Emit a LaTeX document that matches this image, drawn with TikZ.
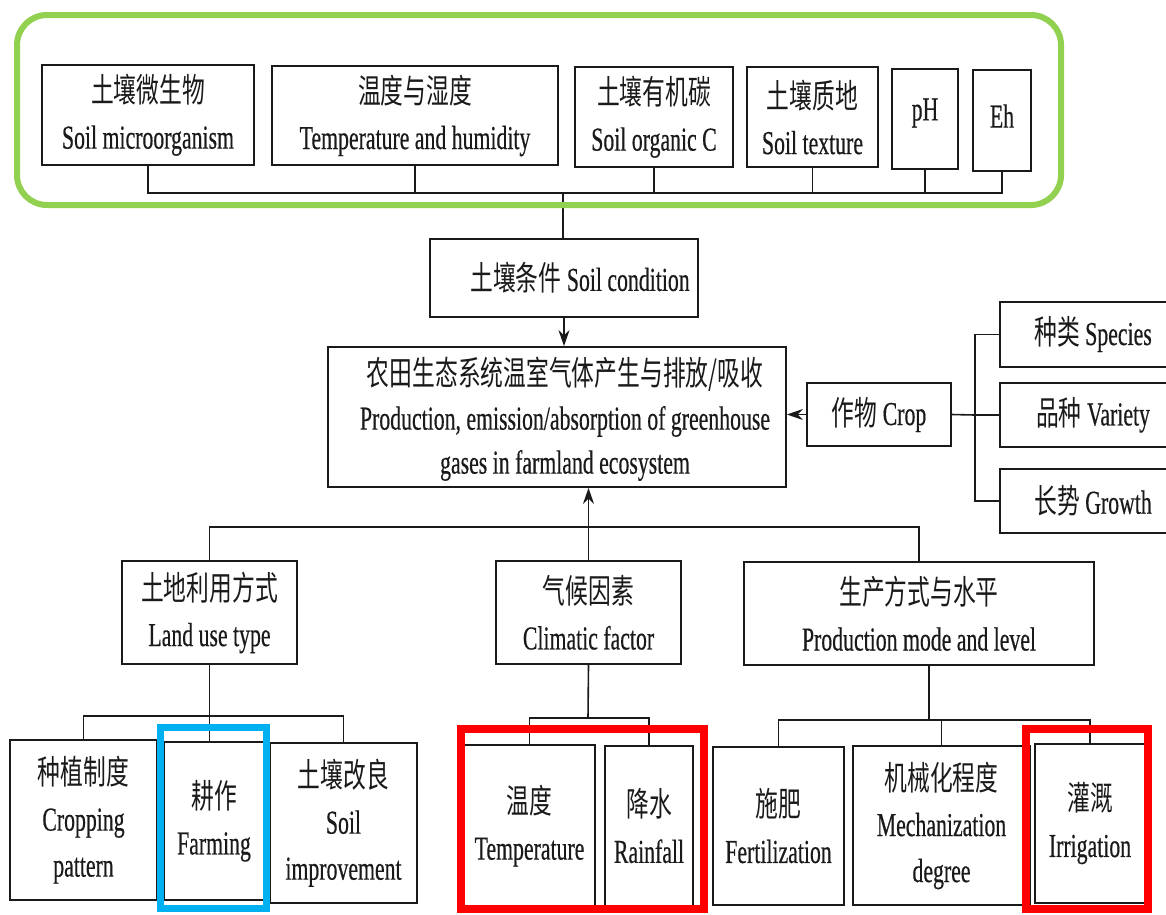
\documentclass[tikz,border=0pt]{standalone}
\usepackage{fontspec}
\setmainfont{Liberation Serif}[FakeStretch=0.65,FakeBold=0.4]
\newfontfamily\cjkfont{Noto Sans CJK SC}[FakeStretch=0.68]
\usetikzlibrary{arrows.meta}
\definecolor{hlgreen}{HTML}{92D050}
\definecolor{hlblue}{HTML}{00B0F0}
\definecolor{hlred}{HTML}{FF0000}
\definecolor{ink}{HTML}{1A1A1A}
\newcommand\zhtxt[1]{{\cjkfont #1}}
\tikzset{
  box/.style={draw=ink, line width=1.8pt, inner sep=0pt, align=center,
    font=\fontsize{33.5}{46}\selectfont, text=ink},
  lbl/.style={inner sep=0pt, align=center, font=\fontsize{33.5}{44}\selectfont, text=ink},
  conn/.style={draw=ink, line width=1.6pt},
  arr/.style={conn, -{Stealth[length=16pt,width=11pt]}},
  hlbox/.style={line width=7pt},
}
\begin{document}
\begin{tikzpicture}[x=1pt,y=-1pt]
\path[fill=white] (0,0) rectangle (1166,914);
\clip (0,0) rectangle (1166,914);

% top row
\node[box, minimum width=212pt, minimum height=100pt] (t1) at (148,115) {\zhtxt{土壤微生物}\\Soil microorganism};
\node[box, minimum width=286pt, minimum height=99pt] (t2) at (415,115.5) {\zhtxt{温度与湿度}\\Temperature and humidity};
\node[box, minimum width=158pt, minimum height=100pt] (t3) at (654,117) {\zhtxt{土壤有机碳}\\Soil organic C};
\node[box, minimum width=131pt, minimum height=100pt] (t4) at (812.5,117) {\zhtxt{土壤质地}\\Soil texture};
\node[box, minimum width=66pt, minimum height=100pt] (t5) at (925,119) {};
\node[lbl] (t5t) at (925,113) {pH};
\node[box, minimum width=58pt, minimum height=101pt] (t6) at (1002,120.5) {};
\node[lbl] (t6t) at (1002,116) {Eh};

\coordinate (bt) at (563,193);
\draw[conn] (t1.south) |- (bt) -| (t6.south);
\foreach \n in {t2,t3,t4,t5} \draw[conn] (\n.south) -- (\n.south |- bt);

% soil condition
\node[box, minimum width=268pt, minimum height=78pt] (sc) at (564,278) {\hspace*{32pt}\zhtxt{土壤条件} Soil condition};
\draw[conn] (bt) -- (bt |- sc.north);

% main box
\node[box, minimum width=458pt, minimum height=140pt] (mn) at (557,417) {};
\node[lbl] (mnt) at (565,419)
  {\zhtxt{农田生态系统温室气体产生与排放/吸收}\\Production, emission/absorption of greenhouse\\gases in farmland ecosystem};
\draw[arr] (sc.south) -- (sc.south |- mn.north);

% crop
\node[box, minimum width=144pt, minimum height=63pt] (cr) at (879,414.5) {\zhtxt{作物} Crop};
\draw[arr] (cr.west) -- (cr.west -| mn.east);
\node[box, minimum width=186pt, minimum height=65pt] (sp) at (1093,334.5) {\zhtxt{种类} Species};
\node[box, minimum width=186pt, minimum height=64pt] (va) at (1093,415) {\zhtxt{品种} Variety};
\node[box, minimum width=186pt, minimum height=64pt] (gr) at (1093,501) {\zhtxt{长势} Growth};
\coordinate (cs) at (975,415);
\draw[conn] (cr.east) -- (cs);
\draw[conn] (sp.west) -| (cs) |- (gr.west);
\draw[conn] (va.west) -- (cs);

% second level
\node[box, minimum width=175pt, minimum height=103pt] (lu) at (209.5,612.5) {\zhtxt{土地利用方式}\\Land use type};
\node[box, minimum width=185pt, minimum height=103pt] (cf) at (588.5,612.5) {\zhtxt{气候因素}\\Climatic factor};
\node[box, minimum width=350pt, minimum height=103pt] (pm) at (919,613.5) {\zhtxt{生产方式与水平}\\Production mode and level};
\coordinate (b2) at (585,527);
\draw[conn] (lu.north) |- (b2) -| (pm.north);
\draw[arr] (cf.north) -- (cf.north |- mn.south);

% land use children
\node[box, minimum width=147pt, minimum height=160pt] (cp) at (83.5,820) {\zhtxt{种植制度}\\Cropping\\pattern};
\node[box, minimum width=100pt, minimum height=158pt] (fa) at (214,821) {\zhtxt{耕作}\\Farming};
\node[box, minimum width=147pt, minimum height=160pt] (si) at (343.5,823) {\zhtxt{土壤改良}\\Soil\\improvement};
\coordinate (b3) at (210,716);
\draw[conn] (cp.north) |- (b3) -| (si.north);
\draw[conn] (lu.south) -- (lu.south |- b3) -- (lu.south |- fa.north);

% climatic children
\node[box, minimum width=131pt, minimum height=162pt] (te) at (529.5,826) {\zhtxt{温度}\\Temperature};
\node[box, minimum width=88pt, minimum height=160pt] (ra) at (649,826) {\zhtxt{降水}\\Rainfall};
\coordinate (b4) at (588,718);
\draw[conn] (te.north) |- (b4) -| (ra.north);
\draw[conn] (cf.south) -- (b4);

% production children
\node[box, minimum width=131pt, minimum height=158pt] (fe) at (778.5,826) {\zhtxt{施肥}\\Fertilization};
\node[box, minimum width=177pt, minimum height=159pt] (me) at (941.5,825.5) {\zhtxt{机械化程度}\\Mechanization\\degree};
\node[box, minimum width=110pt, minimum height=159pt] (ir) at (1090,823.5) {\zhtxt{灌溉}\\Irrigation};
\coordinate (b5) at (929,720);
\draw[conn] (fe.north) |- (b5) -| (ir.north);
\draw[conn] (me.north) -- (me.north |- b5);
\draw[conn] ([xshift=10pt]pm.south) -- (b5);

% highlight frames
\draw[hlbox, draw=hlgreen, line width=6pt, rounded corners=30pt] (17,15) rectangle (1061,205);
\draw[hlbox, draw=hlblue] (160.5,727.5) rectangle (266.5,908.5);
\draw[hlbox, draw=hlred, line width=8pt] (461,729) rectangle (704,909);
\draw[hlbox, draw=hlred, line width=8pt] (1026,729) rectangle (1148,909);
\end{tikzpicture}
\end{document}
